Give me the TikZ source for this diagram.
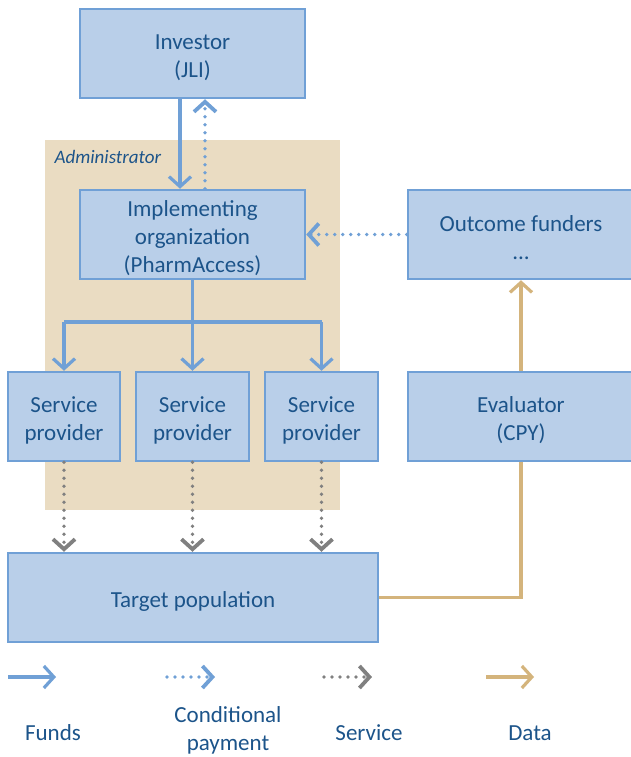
\documentclass[tikz,border=0pt]{standalone}
\usepackage{fontspec}
\setmainfont{Carlito}
\usetikzlibrary{arrows.meta}
\definecolor{boxfill}{RGB}{185,207,233}
\definecolor{boxline}{RGB}{112,160,214}
\definecolor{txtblue}{RGB}{28,84,138}
\definecolor{admbg}{RGB}{234,220,194}
\definecolor{datacol}{RGB}{212,180,124}
\definecolor{servgray}{RGB}{128,128,128}
\tikzset{
  box/.style={draw=boxline, fill=boxfill, line width=2.5pt, inner sep=0pt,
    minimum height=89pt},
  boxtext/.style={align=center, text=txtblue, inner sep=0pt,
    font=\fontsize{23}{28}\selectfont},
  chev/.style={-{Straight Barb[length=10pt,width=22pt]}},
  fundsline/.style={draw=boxline, line width=3.2pt},
  funds/.style={fundsline, chev},
  condpay/.style={draw=boxline, line width=3.8pt, line cap=round,
    dash pattern=on 0pt off 8pt, chev},
  servline/.style={draw=servgray, line width=3.8pt, line cap=round,
    dash pattern=on 0pt off 8pt, chev},
  dataline/.style={draw=datacol, line width=3.2pt},
  data/.style={dataline, chev},
  legtext/.style={text=txtblue, font=\fontsize{23}{28}\selectfont, align=center}
}
\begin{document}
\begin{tikzpicture}[x=1pt,y=-1pt]
\useasboundingbox (0,0) rectangle (631,757);
\fill[white] (0,0) rectangle (631,757);

% administrator area
\fill[admbg] (45,140) rectangle (340,510);
\node[anchor=west, text=txtblue, font=\fontsize{19}{22}\selectfont\itshape]
  (adm) at (51,157) {Administrator};

% actors
\node[box, minimum width=225pt] (inv) at (192.5,53.5) {};
\node[box, minimum width=225pt] (impl) at (192.5,234.5) {};
\node[box, minimum width=226pt] (out) at (521,234.5) {};
\node[box, minimum width=112pt] (sp1) at (64,416.5) {};
\node[box, minimum width=113pt] (sp2) at (192.5,416.5) {};
\node[box, minimum width=113pt] (sp3) at (321.5,416.5) {};
\node[box, minimum width=226pt] (eval) at (521,416.5) {};
\node[box, minimum width=370pt] (tgt) at (193,597.5) {};

\node[boxtext] (inv-t) at ([yshift=-4pt]inv.center) {Investor\\(JLI)};
\node[boxtext] (impl-t) at ([yshift=-4pt]impl.center)
  {Implementing\\organization\\(PharmAccess)};
\node[boxtext] (out-t) at ([yshift=-3pt]out.center) {Outcome funders\\...};
\node[boxtext] (sp1-t) at ([yshift=-4pt]sp1.center) {Service\\provider};
\node[boxtext] (sp2-t) at ([yshift=-4pt]sp2.center) {Service\\provider};
\node[boxtext] (sp3-t) at ([yshift=-4pt]sp3.center) {Service\\provider};
\node[boxtext] (eval-t) at ([yshift=-4pt]eval.center) {Evaluator\\(CPY)};
\node[boxtext] (tgt-t) at ([yshift=-4pt]tgt.center) {Target population};

% funds and conditional payment between investor and implementer
\draw[funds] ([xshift=-12.5pt]inv.south) -- ([xshift=-12.5pt]impl.north);
\draw[condpay] ([xshift=12.5pt]impl.north) -- ([xshift=12.5pt]inv.south);
\draw[condpay] (out.west) -- (impl.east);

% funds distributed to the service providers
\coordinate (split) at (192.5,322);
\draw[fundsline] (impl.south) -- (split);
\draw[fundsline] (sp1.north |- split) -- (sp3.north |- split);
\draw[funds] (sp1.north |- split) -- (sp1.north);
\draw[funds] (split) -- (sp2.north);
\draw[funds] (sp3.north |- split) -- (sp3.north);

% services to the target population
\draw[servline] (sp1.south) -- (sp1.south |- tgt.north);
\draw[servline] (sp2.south) -- (sp2.south |- tgt.north);
\draw[servline] (sp3.south) -- (sp3.south |- tgt.north);

% data flow
\draw[dataline] (tgt.east) -| (eval.south);
\draw[data] (eval.north) -- (out.south);

% legend
\coordinate (fa) at (8,677);   \coordinate (fb) at (56,677);
\coordinate (ca) at (167,677); \coordinate (cb) at (215,677);
\coordinate (sa) at (324,677); \coordinate (sb) at (372,677);
\coordinate (da) at (486,677); \coordinate (db) at (534,677);
\draw[funds] (fa) -- (fb);
\draw[condpay] (ca) -- (cb);
\draw[servline] (sa) -- (sb);
\draw[data] (da) -- (db);
\node[legtext] (lf) at (53,733) {Funds};
\node[legtext] (lc) at (228,730) {Conditional\\payment};
\node[legtext] (ls) at (369,733) {Service};
\node[legtext] (ld) at (530,733) {Data};
\end{tikzpicture}
\end{document}
